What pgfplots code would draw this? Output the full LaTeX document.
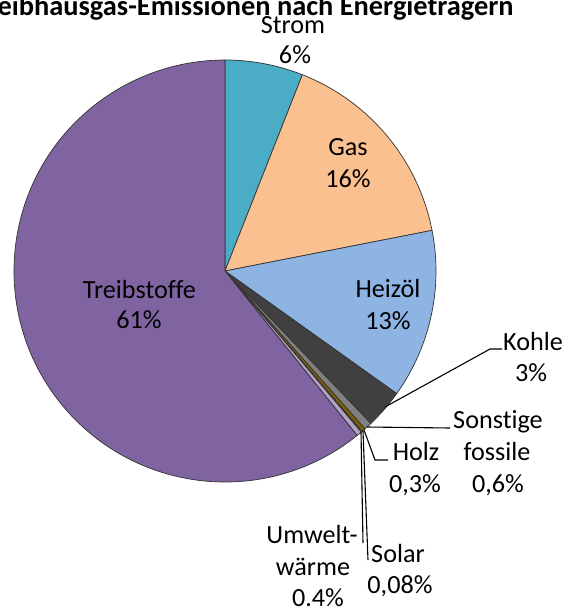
\documentclass[border=0pt]{standalone}
\usepackage{pgfplots}
\usepackage{pgfplotstable}
\pgfplotsset{compat=1.18}
\usepackage{fontspec}
\setmainfont{Carlito}[Ligatures={NoCommon}]
\definecolor{cStrom}{HTML}{4BACC6}
\definecolor{cGas}{HTML}{FAC090}
\definecolor{cHeiz}{HTML}{8EB4E3}
\definecolor{cKohle}{HTML}{404040}
\definecolor{cSonst}{HTML}{808080}
\definecolor{cHolz}{HTML}{7F6000}
\definecolor{cSolar}{HTML}{FFC000}
\definecolor{cUmwelt}{HTML}{B3A2C7}
\definecolor{cTreib}{HTML}{8064A2}
\tikzset{lbl/.style={font=\fontsize{26.2}{31}\selectfont, anchor=base, inner sep=0pt}}
\pgfplotstableread{
val col
6 cStrom
16 cGas
13 cHeiz
3 cKohle
0.6 cSonst
0.3 cHolz
0.08 cSolar
0.4 cUmwelt
61 cTreib
}\pietable
\begin{document}
\begin{tikzpicture}
\useasboundingbox (0,0) rectangle (564pt,608pt);
\clip (0,0) rectangle (564pt,608pt);
\begin{axis}[
  at={(0,0)}, anchor=south west,
  scale only axis, width=564pt, height=608pt,
  xmin=0, xmax=564, ymin=0, ymax=608, y dir=reverse,
  hide axis, clip=false,
]
\pgfplotstablegetrowsof{\pietable}
\pgfmathtruncatemacro\nrows{\pgfplotsretval-1}
\def\total{0}
\pgfplotsforeachungrouped \i in {0,...,\nrows}{%
  \pgfplotstablegetelem{\i}{val}\of\pietable
  \pgfmathsetmacro\total{\total+\pgfplotsretval}%
  \xdef\total{\total}%
}
\def\cum{0}
\pgfplotsforeachungrouped \i in {0,...,\nrows}{%
  \pgfplotstablegetelem{\i}{val}\of\pietable \let\v\pgfplotsretval
  \pgfplotstablegetelem{\i}{col}\of\pietable \let\c\pgfplotsretval
  \pgfmathsetmacro\a{90-(\cum/\total)*360}%
  \pgfmathsetmacro\cumnew{\cum+\v}%
  \pgfmathsetmacro\b{90-(\cumnew/\total)*360}%
  \xdef\cum{\cumnew}%
  \edef\temp{\noexpand\fill[\c, draw=black!80, line width=0.7pt, line join=round]
    (axis cs:225,271) -- ++(\a:211pt) arc[start angle=\a, end angle=\b, radius=211pt] -- cycle;}%
  \temp
}
% leader lines
\draw[line width=1.1pt] (axis cs:385,407) -- (axis cs:490,349) -- (axis cs:502,349);
\draw[line width=1.1pt] (axis cs:367,427) -- (axis cs:450,428);
\draw[line width=1.1pt] (axis cs:364,430) -- (axis cs:375,460) -- (axis cs:388,460);
\draw[line width=1.1pt] (axis cs:363,431) -- (axis cs:368,560);
\draw[line width=1.1pt] (axis cs:361,432) -- (axis cs:363,543);
% title
\node[font=\bfseries\fontsize{28.4}{34}\selectfont, anchor=base west, inner sep=0pt] at (axis cs:-25,15) {Treibhausgas-Emissionen nach Energieträgern};
% labels
\node[lbl] at (axis cs:293,33) {Strom};
\node[lbl] at (axis cs:295,63) {6\%};
\node[lbl] at (axis cs:348,155) {Gas};
\node[lbl] at (axis cs:348,187) {16\%};
\node[lbl] at (axis cs:388,297) {Heizöl};
\node[lbl] at (axis cs:388,329) {13\%};
\node[lbl] at (axis cs:139.5,298) {Treibstoffe};
\node[lbl] at (axis cs:139,328) {61\%};
\node[lbl] at (axis cs:533,350) {Kohle};
\node[lbl] at (axis cs:531,381) {3\%};
\node[lbl] at (axis cs:498,428) {Sonstige};
\node[lbl] at (axis cs:497,460) {fossile};
\node[lbl] at (axis cs:498,492) {0,6\%};
\node[lbl] at (axis cs:416,460) {Holz};
\node[lbl] at (axis cs:415,492) {0,3\%};
\node[lbl] at (axis cs:398,562) {Solar};
\node[lbl] at (axis cs:400,593) {0,08\%};
\node[lbl] at (axis cs:312,543) {Umwelt-};
\node[lbl] at (axis cs:313,575) {wärme};
\node[lbl] at (axis cs:318,606) {0.4\%};
\end{axis}
\end{tikzpicture}
\end{document}
